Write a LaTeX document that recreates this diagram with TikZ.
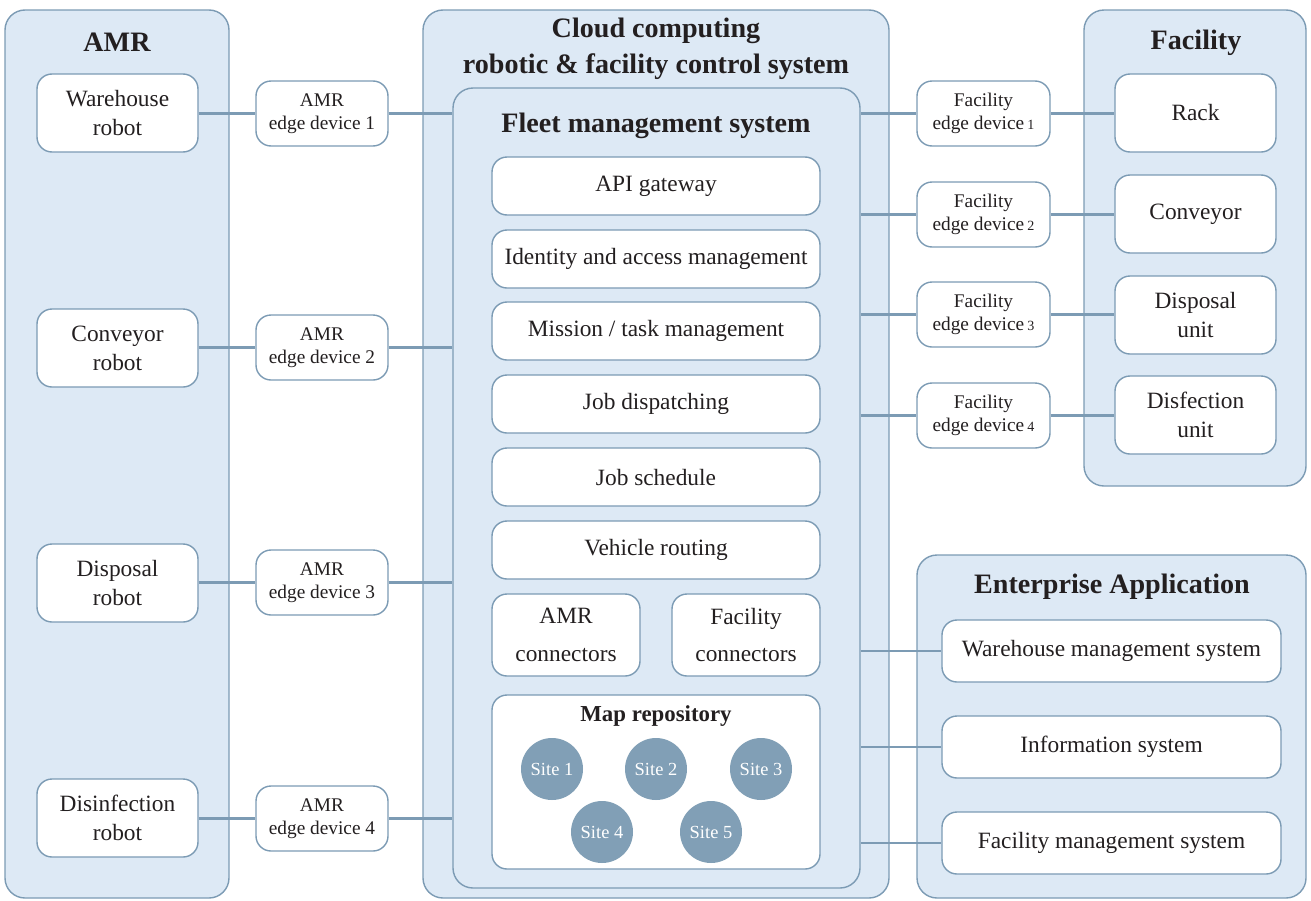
\documentclass[tikz,border=0pt]{standalone}
\usepackage{fontspec}
\setmainfont{Liberation Serif}
\definecolor{panel}{RGB}{221,233,245}
\definecolor{frame}{RGB}{124,155,180}
\definecolor{site}{RGB}{129,159,182}
\definecolor{ink}{RGB}{35,31,32}
\newcommand{\unitno}[1]{\,{\fontsize{8}{8}\selectfont #1}}
% \cell{style}{name}{x1}{y1}{x2}{y2}{text}: a box spanning two corners
\newcommand{\cell}[7]{%
  \node[#1, minimum width={(#5-#3)*0.02cm}, minimum height={(#6-#4)*0.02cm}]
    (#2) at ({(#3+#5)/2},{(#4+#6)/2}) {#7};}

\begin{document}
\begin{tikzpicture}[x=0.02cm,y=-0.02cm,
  panelbox/.style={draw=frame, line width=0.8pt, fill=panel, rounded corners=0.4cm, inner sep=0pt},
  itembox/.style={draw=frame, line width=0.8pt, fill=white, rounded corners=0.3cm, inner sep=0pt,
    align=center, text=ink, font=\fontsize{13.3}{16.5}\selectfont},
  connbox/.style={itembox, font=\fontsize{13.3}{21.5}\selectfont},
  edgebox/.style={itembox, font=\fontsize{11}{13.4}\selectfont},
  title/.style={font=\bfseries\fontsize{16}{20.5}\selectfont, text=ink, align=center},
  link/.style={draw=frame, line width=1.4pt},
  sitenode/.style={circle, fill=site, minimum size=1.24cm, inner sep=0pt, text=white,
    font=\fontsize{10.5}{12}\selectfont}]
\useasboundingbox (0,0) rectangle (1311,900);

% ---- outer panels ----
\cell{panelbox}{amr}{5}{10}{229}{898}{}
\cell{panelbox}{cloud}{423}{10}{889}{898}{}
\cell{panelbox}{facility}{1084}{10}{1306}{486}{}
\cell{panelbox}{enterprise}{917}{555}{1306}{898}{}
\cell{panelbox}{fleet}{453}{88}{860}{888}{}

% ---- titles ----
\node[title] (amrtitle) at (117,42) {AMR};
\node[title] (cloudtitle) at (656,49) {Cloud computing\\robotic \& facility control system};
\node[title] (fleettitle) at (656,126) {Fleet management system};
\node[title] (factitle) at (1196,43) {Facility};
\node[title] (enttitle) at (1112,587) {Enterprise Application};

% ---- AMR robots ----
\cell{itembox}{wr}{37}{74}{198}{152}{Warehouse\\robot}
\cell{itembox}{cr}{37}{309}{198}{387}{Conveyor\\robot}
\cell{itembox}{dr}{37}{544}{198}{622}{Disposal\\robot}
\cell{itembox}{ir}{37}{779}{198}{857}{Disinfection\\robot}

% ---- AMR edge devices ----
\cell{edgebox}{ae1}{256}{81}{388}{146}{AMR\\edge device 1}
\cell{edgebox}{ae2}{256}{315}{388}{380}{AMR\\edge device 2}
\cell{edgebox}{ae3}{256}{550}{388}{615}{AMR\\edge device 3}
\cell{edgebox}{ae4}{256}{786}{388}{851}{AMR\\edge device 4}

% ---- fleet management services ----
\cell{itembox}{api}{492}{157}{820}{215}{API gateway}
\cell{itembox}{iam}{492}{230}{820}{288}{Identity and access management}
\cell{itembox}{mission}{492}{302}{820}{360}{Mission / task management}
\cell{itembox}{dispatch}{492}{375}{820}{433}{Job dispatching}
\cell{itembox}{schedule}{492}{448}{820}{506}{Job schedule}
\cell{itembox}{routing}{492}{521}{820}{579}{Vehicle routing}
\cell{connbox}{amrconn}{492}{594}{640}{676}{AMR\\connectors}
\cell{connbox}{facconn}{672}{594}{820}{676}{Facility\\connectors}
\cell{itembox}{maprepo}{492}{695}{820}{869}{}
\node[font=\bfseries\fontsize{13}{15}\selectfont, text=ink] (maptitle) at (656,716) {Map repository};
\node[sitenode] (s1) at (552,769) {Site 1};
\node[sitenode] (s2) at (656,769) {Site 2};
\node[sitenode] (s3) at (761,769) {Site 3};
\node[sitenode] (s4) at (602,832) {Site 4};
\node[sitenode] (s5) at (711,832) {Site 5};

% ---- facility edge devices ----
\cell{edgebox}{fe1}{917}{81}{1050}{146}{Facility\\edge device\unitno{1}}
\cell{edgebox}{fe2}{917}{182}{1050}{247}{Facility\\edge device\unitno{2}}
\cell{edgebox}{fe3}{917}{282}{1050}{347}{Facility\\edge device\unitno{3}}
\cell{edgebox}{fe4}{917}{383}{1050}{448}{Facility\\edge device\unitno{4}}

% ---- facility units ----
\cell{itembox}{rack}{1115}{74}{1276}{152}{Rack}
\cell{itembox}{conv}{1115}{175}{1276}{253}{Conveyor}
\cell{itembox}{disp}{1115}{276}{1276}{354}{Disposal\\unit}
\cell{itembox}{disf}{1115}{376}{1276}{454}{Disfection\\unit}

% ---- enterprise applications ----
\cell{itembox}{wms}{942}{620}{1281}{682}{Warehouse management system}
\cell{itembox}{info}{942}{716}{1281}{778}{Information system}
\cell{itembox}{fms}{942}{812}{1281}{874}{Facility management system}

% ---- connectors ----
\foreach \r/\e in {wr/ae1, cr/ae2, dr/ae3, ir/ae4}{
  \draw[link] (\r.east |- \e.west) -- (\e.west);
  \draw[link] (\e.east) -- (\e.east -| fleet.west);
}
\foreach \e/\u in {fe1/rack, fe2/conv, fe3/disp, fe4/disf}{
  \draw[link] (\e.west -| fleet.east) -- (\e.west);
  \draw[link] (\e.east) -- (\e.east -| \u.west);
}
\foreach \a in {wms, info, fms}{
  \draw[link] (\a.west -| fleet.east) -- (\a.west);
}
\end{tikzpicture}
\end{document}
